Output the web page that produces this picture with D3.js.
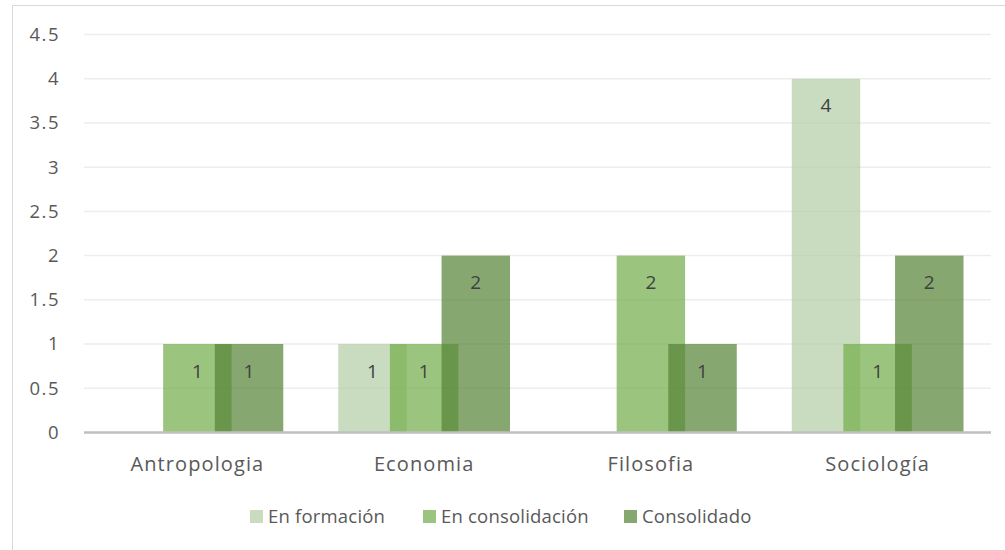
<!DOCTYPE html>
<html>
<head>
<meta charset="utf-8">
<script src="https://cdn.jsdelivr.net/npm/d3@7"></script>
<style>
  html, body { margin: 0; padding: 0; background: #ffffff; }
  svg { display: block; font-family: "Open Sans", "Noto Sans", sans-serif; }
</style>
</head>
<body>
<svg id="chart" width="1005" height="550"></svg>
<script>
// Research groups per discipline, by consolidation stage
const categories = ["Antropologia", "Economia", "Filosofia", "Sociología"];
const seriesNames = ["En formación", "En consolidación", "Consolidado"];
const enFormacion = [0, 1, 0, 4];
const enConsolidacion = [1, 1, 2, 1];
const consolidado = [1, 2, 1, 2];
const yTicks = [0, 0.5, 1, 1.5, 2, 2.5, 3, 3.5, 4, 4.5];
const seriesColors = ["#b2cda5", "#70ad47", "#548235"];

const seriesValues = [enFormacion, enConsolidacion, consolidado];

const svg = d3.select("#chart");
const W = 1005, H = 550;
const plot = { left: 84, right: 991, top: 34.6, bottom: 432.4 };

// outer chart frame
svg.append("rect")
  .attr("x", 12.5).attr("y", 5.5)
  .attr("width", W).attr("height", H)
  .attr("fill", "#ffffff")
  .attr("stroke", "#d9d9d9").attr("stroke-width", 1);

const x0 = d3.scaleBand().domain(categories).range([plot.left, plot.right]).padding(0);
const y = d3.scaleLinear().domain([0, 4.5]).range([plot.bottom, plot.top]);

// series positions inside a category (bars overlap their neighbours)
const x1 = d3.scaleBand().domain(seriesNames).range([-77.5, 77.5]).padding(0);
const barW = x1.step() * 1.325;

// horizontal gridlines
svg.append("g")
  .selectAll("line")
  .data(yTicks.filter(t => t > 0))
  .join("line")
  .attr("x1", plot.left).attr("x2", plot.right)
  .attr("y1", d => y(d)).attr("y2", d => y(d))
  .attr("stroke", "#ededed").attr("stroke-width", 1.5);

// y tick labels
svg.append("g")
  .selectAll("text")
  .data(yTicks)
  .join("text")
  .attr("x", 60)
  .attr("y", d => y(d))
  .attr("dy", "0.35em")
  .attr("text-anchor", "end")
  .attr("fill", "#595959")
  .attr("font-size", 18.5)
  .attr("letter-spacing", 1.5)
  .text(d => d);

// bars, one series after another so later series sit on top
const barData = [];
seriesNames.forEach((s, si) => {
  categories.forEach((c, ci) => {
    barData.push({ s, si, c, v: seriesValues[si][ci] });
  });
});

const cx = d => x0(d.c) + x0.bandwidth() / 2 + x1(d.s) + x1.step() / 2;

svg.append("g")
  .selectAll("rect")
  .data(barData.filter(d => d.v > 0))
  .join("rect")
  .attr("x", d => cx(d) - barW / 2)
  .attr("y", d => y(d.v))
  .attr("width", barW)
  .attr("height", d => y(0) - y(d.v))
  .attr("fill", d => seriesColors[d.si])
  .attr("fill-opacity", 0.7);

// value labels just inside the top of each bar
svg.append("g")
  .selectAll("text")
  .data(barData.filter(d => d.v > 0))
  .join("text")
  .attr("x", d => cx(d))
  .attr("y", d => y(d.v) + 27)
  .attr("dy", "0.35em")
  .attr("text-anchor", "middle")
  .attr("fill", "#404040")
  .attr("font-size", 19)
  .text(d => d.v);

// x axis line
svg.append("line")
  .attr("x1", plot.left).attr("x2", plot.right)
  .attr("y1", y(0)).attr("y2", y(0))
  .attr("stroke", "#bfbfbf").attr("stroke-width", 2.5);

// category labels
svg.append("g")
  .selectAll("text")
  .data(categories)
  .join("text")
  .attr("x", d => x0(d) + x0.bandwidth() / 2)
  .attr("y", 471)
  .attr("text-anchor", "middle")
  .attr("fill", "#595959")
  .attr("font-size", 20)
  .attr("letter-spacing", 1.1)
  .text(d => d);

// legend
const legendX = [250, 423, 624];
const legend = svg.append("g")
  .selectAll("g")
  .data(seriesNames)
  .join("g")
  .attr("transform", (d, i) => `translate(${legendX[i]},0)`);

legend.append("rect")
  .attr("x", 0).attr("y", 510)
  .attr("width", 13).attr("height", 13)
  .attr("fill", (d, i) => seriesColors[i])
  .attr("fill-opacity", 0.7);

legend.append("text")
  .attr("x", 18).attr("y", 523)
  .attr("fill", "#595959")
  .attr("font-size", 18.5)
  .attr("letter-spacing", 0.2)
  .text(d => d);
</script>
</body>
</html>
